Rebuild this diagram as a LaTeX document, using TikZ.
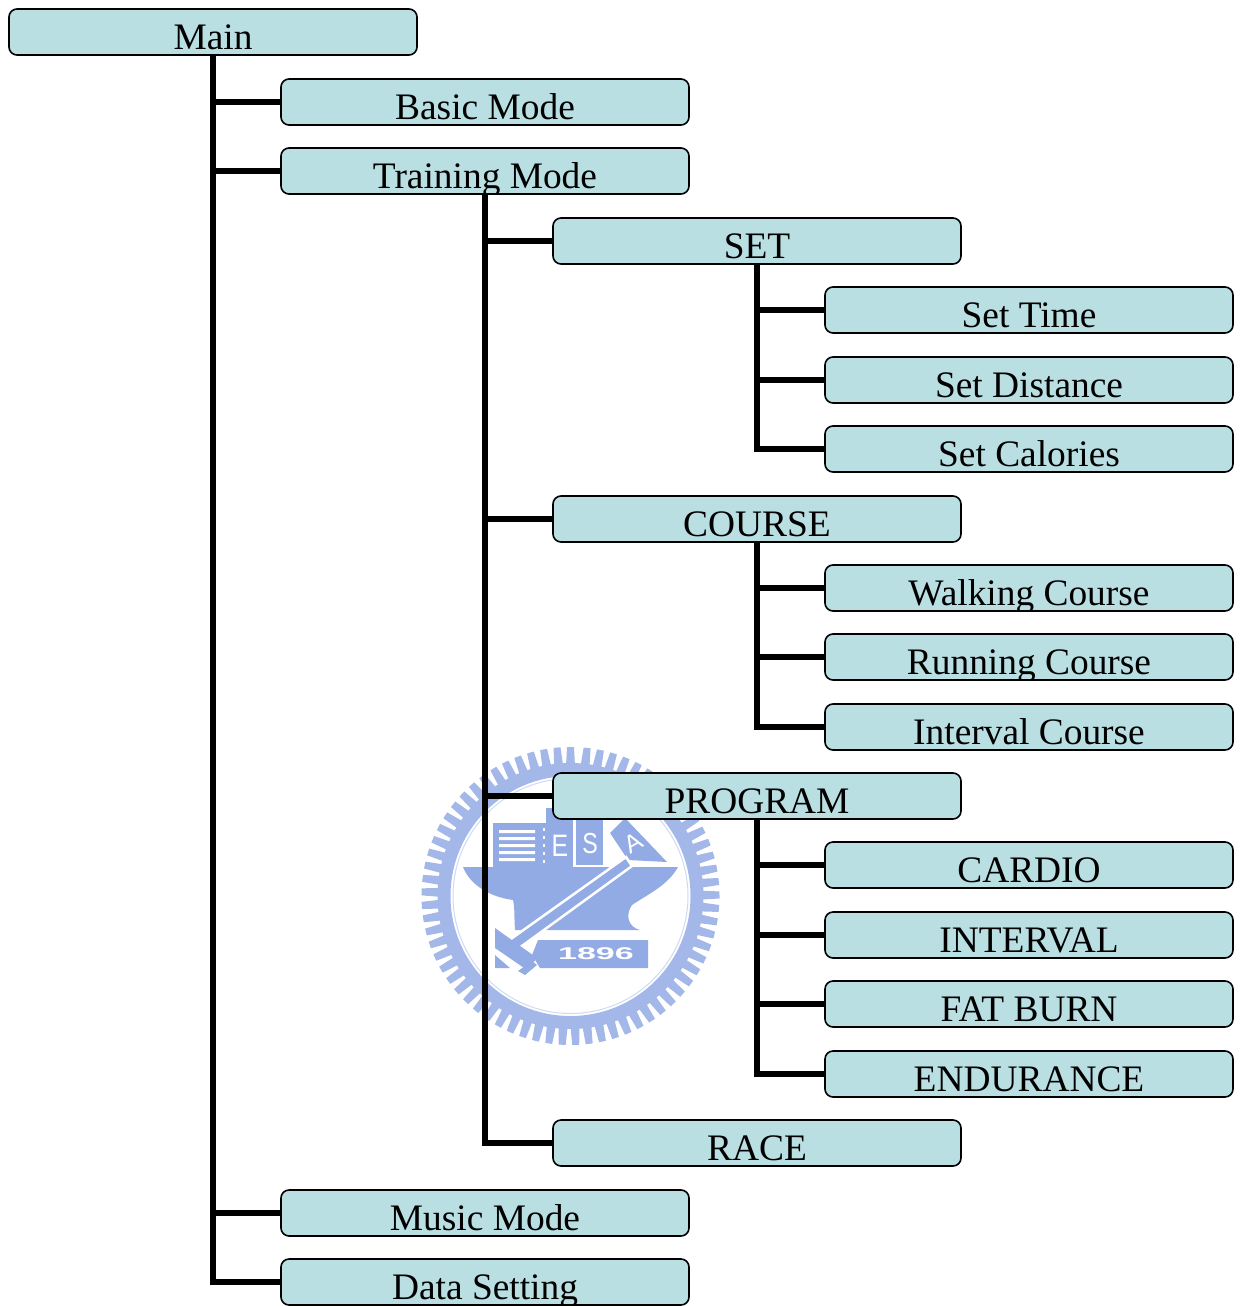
\documentclass[tikz,border=0pt]{standalone}
\usepackage{fontspec}
\setmainfont{Liberation Serif}
\setsansfont{Liberation Sans}
\definecolor{boxfill}{HTML}{B9DFE3}
\definecolor{seal}{HTML}{93ABE4}
\pgfdeclarelayer{seallayer}
\pgfdeclarelayer{linklayer}
\pgfsetlayers{seallayer,linklayer,main}
\tikzset{
  menubox/.style={draw=black,line width=1.6pt,fill=boxfill,rounded corners=8pt,
    minimum width=408pt,minimum height=46pt,inner sep=0pt,outer sep=0pt},
  % the label is cut off by the lower edge of its box
  boxlabel/.style={path picture={
    \node[draw=none,fill=none,anchor=base,inner sep=0pt,minimum width=0pt,minimum height=0pt,
      font=\fontsize{37.4}{37.4}\selectfont] (boxtext)
      at ([yshift=5.3pt]path picture bounding box.south) {#1};}},
  link/.style={line width=5.5pt,line cap=rect},
  sealtext/.style={text=white,inner sep=0pt}
}
\begin{document}
\begin{tikzpicture}[x=1pt,y=-1pt]
  \useasboundingbox (0,0) rectangle (1240,1306);

  % watermark behind the tree
  \begin{pgfonlayer}{seallayer}
  \def\Sx{570.5} \def\Sy{896}
  \foreach \a in {0,5.2,...,355}{
    \fill[seal!85,rotate around={\a:(\Sx,\Sy)}] (\Sx-3.5,\Sy-149) -- (\Sx+3.5,\Sy-149) -- (\Sx+4.5,\Sy-130) -- (\Sx-4.5,\Sy-130) -- cycle;
  }
  \fill[seal!85,even odd rule] (\Sx,\Sy) circle (133) (\Sx,\Sy) circle (120);
  \draw[seal!45,line width=1pt] (\Sx,\Sy) circle (117.5);
  % anvil
  \fill[seal] (463,867) -- (678,867) .. controls (668,885) and (650,893) .. (632,905)
    .. controls (625,915) and (628,927) .. (640,930) -- (515,930)
    .. controls (514,918) and (515,908) .. (513,900) .. controls (490,897) and (470,885) .. (463,867) -- cycle;
  % building, E, S, A
  \fill[seal] (493,823) rectangle (573,867);
  \fill[seal] (546,808) rectangle (573,867);
  \fill[seal] (576,815) rectangle (603,865);
  \fill[white] \foreach \s in {830,837,844,851,858}{ (499,\s) rectangle (535,\s+3) };
  \foreach \s in {828,836,...,860}{
    \fill[white] (543,\s) rectangle (545,\s+3);
  }
  \fill[seal] (610,833) -- (625,818) -- (667,862) -- (628,860) -- cycle;
  \node[sealtext,font=\fontsize{31}{31}\selectfont\sffamily,xscale=.8] (sealE) at (560,846) {E};
  \node[sealtext,font=\fontsize{29}{29}\selectfont\sffamily,xscale=.8] (sealS) at (590,844) {S};
  \node[sealtext,font=\fontsize{25}{25}\selectfont\sffamily,rotate=30] (sealA) at (633,843) {A};
  % hammer
  \fill[seal,draw=white,line width=2.5pt] (626,857) -- (632,866) -- (515,951) -- (508,941) -- cycle;
  \fill[seal] (495,928) -- (537,958) -- (527,970) -- (495,948) -- cycle;
  \fill[seal] (495,955) -- (510,968) -- (495,968) -- cycle;
  \fill[seal] (525,975) -- (537,965) -- (532,961) -- (518,971) -- cycle;
  % year plate
  \fill[seal] (538,940) -- (648,940) -- (648,968) -- (540,968) -- (532,955) -- cycle;
  \node[sealtext,font=\fontsize{17}{17}\selectfont\bfseries\sffamily,xscale=2] (sealyear) at (596,954) {1896};
  \end{pgfonlayer}

  % boxes of the four levels
  \def\Lone{9} \def\Ltwo{281} \def\Lthree{553} \def\Lfour{825}
  \foreach \name/\lvl/\ytop/\txt in {
    main/\Lone/9/Main,
    basic/\Ltwo/79/Basic Mode,
    training/\Ltwo/148/Training Mode,
    set/\Lthree/218/SET,
    settime/\Lfour/287/Set Time,
    setdist/\Lfour/357/Set Distance,
    setcal/\Lfour/426/Set Calories,
    course/\Lthree/496/COURSE,
    walking/\Lfour/565/Walking Course,
    running/\Lfour/634/Running Course,
    interval/\Lfour/704/Interval Course,
    program/\Lthree/773/PROGRAM,
    cardio/\Lfour/842/CARDIO,
    intervalb/\Lfour/912/INTERVAL,
    fatburn/\Lfour/981/FAT BURN,
    endurance/\Lfour/1051/ENDURANCE,
    race/\Lthree/1120/RACE,
    music/\Ltwo/1190/Music Mode,
    data/\Ltwo/1259/Data Setting}{
    \node[menubox,boxlabel=\txt,anchor=north west] (\name) at (\lvl,\ytop) {};
  }

  % links run under the boxes
  \begin{pgfonlayer}{linklayer}
  \foreach \from/\to in {main/basic,main/training,main/music,main/data,
    training/set,training/course,training/program,training/race,
    set/settime,set/setdist,set/setcal,
    course/walking,course/running,course/interval,
    program/cardio,program/intervalb,program/fatburn,program/endurance}{
    \draw[link] (\from.south) |- (\to.west);
  }
  \end{pgfonlayer}
\end{tikzpicture}
\end{document}
